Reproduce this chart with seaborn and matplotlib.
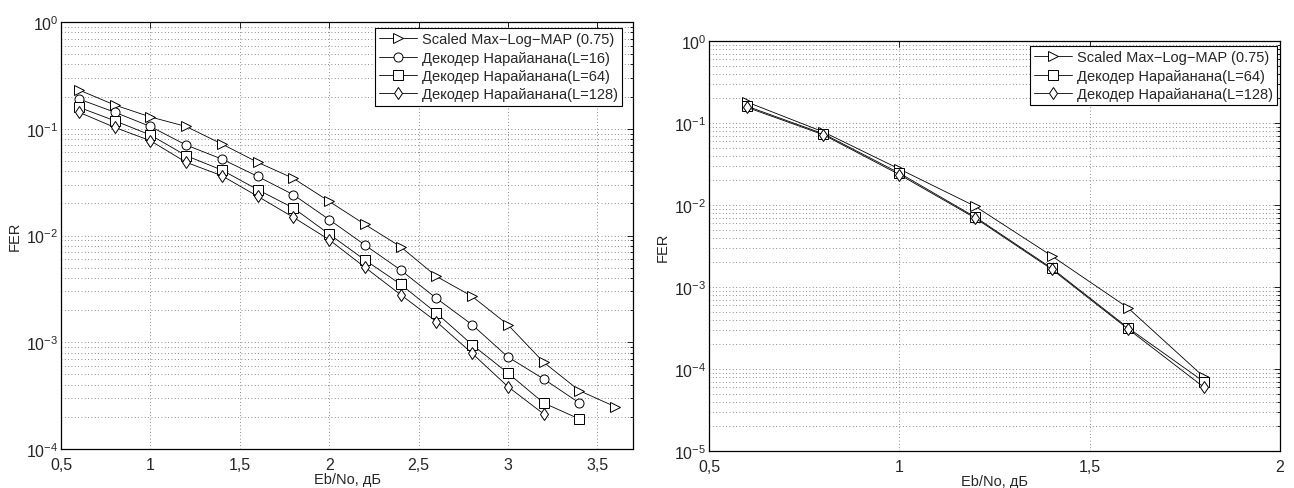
import numpy as np
import pandas as pd
import matplotlib
matplotlib.use("Agg")
import matplotlib.pyplot as plt
import seaborn as sns
from matplotlib.ticker import FixedLocator, FuncFormatter, LogLocator, NullFormatter

# left panel: four decoders
ebno_left = [0.6, 0.8, 1.0, 1.2, 1.4, 1.6, 1.8, 2.0, 2.2, 2.4, 2.6, 2.8, 3.0, 3.2, 3.4, 3.6]
fer_scaled_left = [0.231, 0.167, 0.129, 0.105, 0.072, 0.0485, 0.0343, 0.0209, 0.0127,
                   0.00785, 0.00414, 0.00269, 0.00146, 0.00065, 0.000352, 0.000249]
fer_l16_left = [0.190, 0.143, 0.105, 0.0704, 0.052, 0.0358, 0.0241, 0.0141, 0.00815,
                0.00475, 0.00258, 0.00146, 0.000728, 0.000453, 0.000270]
fer_l64_left = [0.159, 0.119, 0.0874, 0.056, 0.041, 0.0269, 0.0181, 0.0103, 0.0059,
                0.00349, 0.00188, 0.000948, 0.000515, 0.00027, 0.000191]
fer_l128_left = [0.143, 0.103, 0.0773, 0.0485, 0.0363, 0.0233, 0.0148, 0.00914, 0.00504,
                 0.00279, 0.00156, 0.000787, 0.000384, 0.000213]

# right panel: three decoders
ebno_right = [0.6, 0.8, 1.0, 1.2, 1.4, 1.6, 1.8]
fer_scaled_right = [0.18, 0.078, 0.0275, 0.0096, 0.0024, 0.00056, 8.0e-5]
fer_l64_right = [0.16, 0.074, 0.0245, 0.0071, 0.0017, 0.00032, 7.0e-5]
fer_l128_right = [0.155, 0.072, 0.0235, 0.0069, 0.00165, 0.00031, 6.0e-5]

label_scaled = "Scaled Max\u2212Log\u2212MAP (0.75)"
label_l16 = "Декодер Нарайанана(L=16)"
label_l64 = "Декодер Нарайанана(L=64)"
label_l128 = "Декодер Нарайанана(L=128)"

sns.set_style("white")
plt.rcParams["font.family"] = ["Liberation Sans", "DejaVu Sans"]
plt.rcParams["mathtext.fontset"] = "custom"
plt.rcParams["mathtext.rm"] = "Liberation Sans"
plt.rcParams["mathtext.it"] = "Liberation Sans:italic"
plt.rcParams["font.size"] = 10

fig = plt.figure(figsize=(12.94, 4.89), dpi=100)
W, H = 1294, 489
ax_l = fig.add_axes([61 / W, (H - 450) / H, 572 / W, 427 / H])
ax_r = fig.add_axes([709 / W, (H - 452) / H, 571 / W, 410 / H])


def draw(ax, x, y, marker, label):
    sns.lineplot(x=x[:len(y)], y=y, ax=ax, color="k", marker=marker, label=label,
                 linewidth=0.6, markersize=6.5, markerfacecolor="white",
                 markeredgecolor="k", markeredgewidth=0.7)


def style_axes(ax, xmax, ymin, xticks, legend_anchor):
    ax.set_yscale("log")
    ax.set_xlim(0.5, xmax)
    ax.set_ylim(ymin, 1)
    ax.xaxis.set_major_locator(FixedLocator(xticks))
    ax.xaxis.set_major_formatter(FuncFormatter(lambda v, p: f"{v:g}".replace(".", ",")))
    ax.yaxis.set_major_locator(LogLocator(base=10, numticks=10))
    ax.yaxis.set_minor_locator(LogLocator(base=10, subs=np.arange(2, 10), numticks=20))
    ax.yaxis.set_minor_formatter(NullFormatter())
    ax.tick_params(which="both", direction="in", top=True, right=True, labelsize=11.5,
                   color="k", width=0.6)
    ax.tick_params(axis="x", which="major", pad=6)
    ax.tick_params(axis="y", which="major", pad=2)
    ax.tick_params(which="major", length=4)
    ax.tick_params(which="minor", length=2.5)
    ax.grid(True, which="major", axis="both", linestyle=(0, (1, 3)), color="0.4", linewidth=0.6)
    ax.grid(True, which="minor", axis="y", linestyle=(0, (1, 3)), color="0.4", linewidth=0.6)
    for s in ax.spines.values():
        s.set_color("k")
        s.set_linewidth(0.9)
    ax.set_xlabel("Eb/No, дБ", fontsize=10.5, labelpad=0)
    ax.set_ylabel("FER", fontsize=10.5, labelpad=3)
    leg = ax.legend(loc="upper right", bbox_to_anchor=legend_anchor, borderaxespad=0,
                    fancybox=False, framealpha=1, edgecolor="k", fontsize=10.5,
                    handlelength=2.6, handletextpad=0.3, labelspacing=0.3,
                    borderpad=0.3)
    leg.get_frame().set_linewidth(0.8)


draw(ax_l, ebno_left, fer_scaled_left, ">", label_scaled)
draw(ax_l, ebno_left, fer_l16_left, "o", label_l16)
draw(ax_l, ebno_left, fer_l64_left, "s", label_l64)
draw(ax_l, ebno_left, fer_l128_left, "d", label_l128)
style_axes(ax_l, 3.7, 1e-4, [0.5, 1, 1.5, 2, 2.5, 3, 3.5], (0.981, 0.986))

draw(ax_r, ebno_right, fer_scaled_right, ">", label_scaled)
draw(ax_r, ebno_right, fer_l64_right, "s", label_l64)
draw(ax_r, ebno_right, fer_l128_right, "d", label_l128)
style_axes(ax_r, 2.0, 1e-5, [0.5, 1, 1.5, 2], (0.995, 0.988))

fig.savefig("out.png", dpi=100)
